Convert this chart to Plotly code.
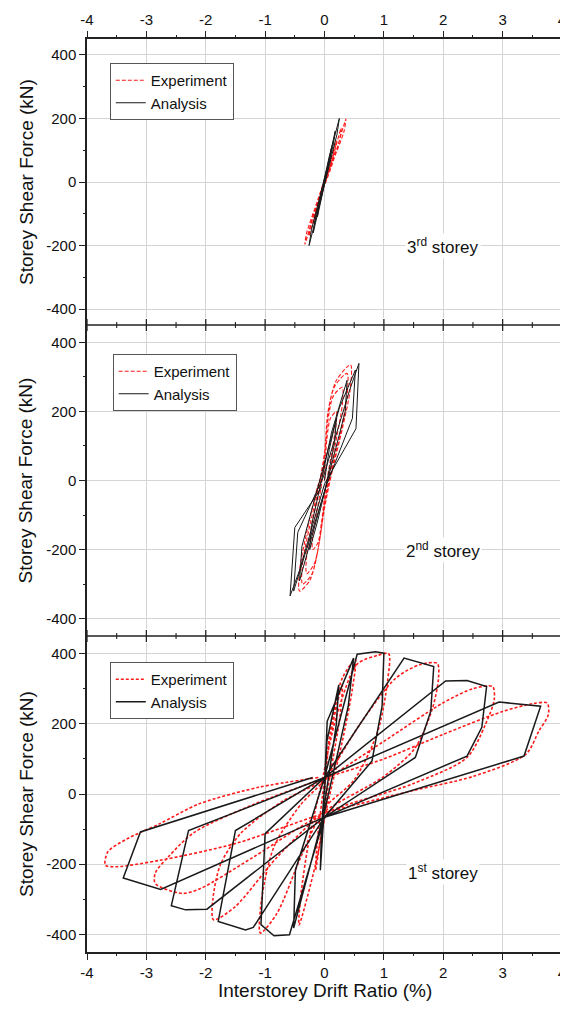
import plotly.graph_objects as go

# ---------------- data (drift ratio %, shear force kN) ----------------
x_ticks = [-4, -3, -2, -1, 0, 1, 2, 3, 4]
x_tick_labels = ['-4', '-3', '-2', '-1', '0', '1', '2', '3', '4']
y_ticks = [-400, -200, 0, 200, 400]
y_tick_labels = ['-400', '-200', '0', '200', '400']

# 3rd storey
exp_3rd_x = [0.00, 0.08, 0.20, 0.17, 0.06, -0.06, -0.18, -0.15, -0.04, 0.10, 0.28, 0.25, 0.10, -0.08,
             -0.26, -0.23, -0.08, 0.12, 0.36, 0.33, 0.15, -0.10, -0.33, -0.30, -0.12, 0.02]
exp_3rd_y = [0, 50, 130, 100, 30, -40, -130, -100, -30, 50, 170, 130, 50, -50,
             -170, -135, -50, 50, 198, 160, 70, -50, -196, -160, -60, 20]
ana_3rd_x = [0.00, 0.05, 0.12, 0.10, 0.02, -0.05, -0.12, -0.10, -0.02, 0.06, 0.18, 0.15, 0.03, -0.08,
             -0.19, -0.16, -0.04, 0.08, 0.25, 0.21, 0.05, -0.10, -0.26, -0.22, -0.06, 0.04]
ana_3rd_y = [0, 50, 110, 80, 10, -50, -110, -80, -10, 60, 160, 120, 20, -70,
             -160, -120, -20, 80, 200, 150, 30, -80, -200, -150, -30, 40]

# 2nd storey
exp_2nd_x = [0.00, 0.04, 0.10, 0.20, 0.20, 0.14, 0.05, 0.00, -0.05, -0.11, -0.20,
             -0.20, -0.13, -0.05, 0.00, 0.05, 0.15, 0.30, 0.30, 0.21, 0.08, 0.00, -0.07, -0.17, -0.30,
             -0.30, -0.21, -0.08, 0.00, 0.05, 0.17, 0.38, 0.38, 0.27, 0.10, 0.00, -0.09, -0.21, -0.37,
             -0.37, -0.26, -0.10, 0.00, 0.06, 0.20, 0.44, 0.43, 0.30, 0.12, 0.00, -0.11, -0.25, -0.42,
             -0.42, -0.30, -0.12, 0.00]
exp_2nd_y = [0, 120, 180, 200, 170, 100, 10, -50, -120, -180, -200,
             -160, -90, -10, 65, 165, 245, 270, 220, 130, 15, -65, -160, -240, -270,
             -215, -125, -15, 72, 185, 272, 310, 245, 140, 18, -72, -180, -270, -300,
             -240, -140, -18, 80, 200, 290, 335, 260, 150, 20, -80, -200, -290, -320,
             -260, -150, -20, 40]
ana_2nd_x = [0.00, 0.08, 0.20, 0.17, 0.02, -0.12, -0.25, -0.22, -0.05, 0.12, 0.38, 0.35, 0.05,
             -0.20, -0.42, -0.38, -0.06, 0.25, 0.52, 0.47, 0.04, -0.35, -0.52, -0.45, -0.02,
             0.42, 0.58, 0.53, 0.00, -0.42, -0.58, -0.50, -0.05]
ana_2nd_y = [0, 90, 180, 110, -20, -120, -200, -130, 0, 140, 290, 200, 0,
             -150, -290, -190, 10, 210, 320, 180, -10, -230, -320, -150, 10,
             260, 339, 150, -10, -260, -334, -136, -20]

# 1st storey
exp_1st_x = [0.00, 0.08, 0.30, 0.26, 0.10, -0.03, -0.15, -0.12, -0.03,
             0.10, 0.30, 0.52, 0.47, 0.30, 0.05, -0.15, -0.43, -0.40, -0.25, -0.05,
             0.20, 0.55, 0.90, 1.08, 1.06, 0.90, 0.50, 0.00, -0.40, -0.80, -1.08, -1.06, -0.85, -0.40, 0.00,
             0.60, 1.20, 1.60, 1.90, 1.92, 1.82, 1.53, 1.00, 0.00, -0.80, -1.50, -1.87, -1.88, -1.75, -1.40, -0.70, 0.00,
             1.00, 2.00, 2.50, 2.83, 2.86, 2.71, 2.40, 1.50, 0.00, -1.20, -2.10, -2.40, -2.85, -2.85, -2.63, -2.20, -1.20, 0.00,
             1.00, 2.00, 3.00, 3.50, 3.75, 3.77, 3.61, 3.39, 2.50, 1.50, 0.00, -1.50, -2.78, -3.50, -3.69, -3.65, -3.35,
             -2.78, -2.11, -1.11, -0.10]
exp_1st_y = [0, 150, 311, 220, 60, -80, -217, -130, 0,
             180, 330, 383, 300, 150, -30, -200, -373, -290, -120, 30,
             220, 370, 395, 400, 320, 180, 40, -40, -180, -340, -396, -300, -150, -30, 40,
             200, 330, 368, 372, 330, 245, 132, 50, -50, -180, -320, -358, -300, -200, -110, -20, 40,
             150, 260, 300, 306, 270, 198, 104, 30, -55, -180, -270, -283, -255, -225, -179, -110, -30, 45,
             100, 170, 235, 257, 259, 226, 179, 113, 50, 10, -55, -141, -189, -207, -203, -165, -130,
             -85, -28, 19, 47]
ana_1st_x = [0.00, 0.04, 0.24, 0.20, 0.00, -0.07, -0.05, 0.00, 0.045, 0.49, 0.40, 0.00, -0.52, -0.49, 0.00,
             0.55, 0.86, 1.00, 0.97, 0.80, 0.00, -0.59, -0.85, -1.07, -1.00, 0.00,
             1.34, 1.84, 1.79, 1.53, 0.00, -1.20, -1.33, -1.79, -1.50, 0.00,
             2.04, 2.40, 2.73, 2.65, 2.40, 0.00, -1.98, -2.34, -2.58, -2.29, 0.00,
             2.94, 3.64, 3.36, 0.00, -2.76, -3.39, -3.10, -0.20]
ana_1st_y = [0, 150, 311, 200, -30, -217, -100, 20, 207, 387, 250, -50, -382, -217, 47,
             398, 405, 401, 250, 94, -66, -401, -404, -372, -113, 47,
             387, 363, 236, 104, -66, -380, -387, -363, -104, 47,
             322, 323, 306, 190, 108, -66, -328, -330, -318, -104, 47,
             262, 250, 108, -66, -272, -239, -108, 47]

storey_labels = ['3<sup>rd</sup> storey', '2<sup>nd</sup> storey', '1<sup>st</sup> storey']
y_title = 'Storey Shear Force (kN)'
x_title = 'Interstorey Drift Ratio (%)'

# ---------------- figure ----------------
FONT = 'Liberation Sans, Arial, Helvetica, sans-serif'
AXC = '#222222'
GRID = '#d4d4d4'
x_minor = [v + 0.5 for v in x_ticks[:-1]]
y_minor = [v + 100 for v in y_ticks[:-1]]

fig = go.Figure()

panels = [
    (exp_3rd_x, exp_3rd_y, ana_3rd_x, ana_3rd_y, 'x', 'y', 'legend', '4px,2px', 1.1, 1.0),
    (exp_2nd_x, exp_2nd_y, ana_2nd_x, ana_2nd_y, 'x2', 'y2', 'legend2', '4px,2px', 1.1, 1.0),
    (exp_1st_x, exp_1st_y, ana_1st_x, ana_1st_y, 'x3', 'y3', 'legend3', '3px,2px', 1.6, 1.5),
]
for ex, ey, ax_, ay, xa, ya, lg, dash, ew, aw in panels:
    fig.add_trace(go.Scatter(x=ex, y=ey, mode='lines', name='Experiment', xaxis=xa, yaxis=ya,
                             legend=lg, line=dict(color='#ff1a1a', width=ew, dash=dash,
                                                  shape='spline', smoothing=0.8)))
    fig.add_trace(go.Scatter(x=ax_, y=ay, mode='lines', name='Analysis', xaxis=xa, yaxis=ya,
                             legend=lg, line=dict(color='#1a1a1a', width=aw)))


def xaxis(side, labels, anchor, outer):
    return dict(range=[-4, 4], tickmode='array', tickvals=x_ticks, ticktext=x_tick_labels,
                side=side, anchor=anchor, showticklabels=labels, automargin=False,
                ticks='outside' if outer else '', ticklen=6, tickwidth=1.3, tickcolor=AXC,
                showline=outer, linecolor=AXC, linewidth=1.5, mirror=False,
                showgrid=True, gridcolor=GRID, gridwidth=1, zeroline=False,
                tickfont=dict(size=15, color='#111', family=FONT))


def xtick_overlay(over, side, anchor, vals, length):
    return dict(range=[-4, 4], tickmode='array', tickvals=vals, overlaying=over,
                side=side, anchor=anchor, showticklabels=False, automargin=False,
                ticks='outside', ticklen=length, tickwidth=1.2, tickcolor=AXC,
                showline=False, showgrid=False, zeroline=False)


def yaxis(domain, anchor):
    return dict(range=[-450, 450], domain=domain, anchor=anchor, automargin=False,
                tickmode='array', tickvals=y_ticks, ticktext=y_tick_labels,
                ticks='outside', ticklen=6, tickwidth=1.3, tickcolor=AXC,
                showline=True, linecolor=AXC, linewidth=1.5, mirror=True,
                showgrid=True, gridcolor=GRID, gridwidth=1, zeroline=False,
                tickfont=dict(size=15, color='#111', family=FONT))


def ytick_overlay(over, anchor):
    return dict(range=[-450, 450], tickmode='array', tickvals=y_minor, overlaying=over,
                side='left', anchor=anchor, showticklabels=False, automargin=False,
                ticks='outside', ticklen=3, tickwidth=1.1, tickcolor=AXC,
                showline=False, showgrid=False, zeroline=False)


def legend(x, y):
    return dict(x=x, y=y, xref='paper', yref='paper', xanchor='left', yanchor='top',
                bgcolor='white', bordercolor='#555', borderwidth=1,
                font=dict(size=15, color='#111', family=FONT),
                tracegroupgap=0, itemwidth=30)


b23, b12 = 0.3461, 0.6867
layout = dict(
    width=560, height=1004,
    margin=dict(l=79, r=6, t=31, b=60, autoexpand=False),
    paper_bgcolor='white', plot_bgcolor='white',
    font=dict(family=FONT, color='#111'),
    xaxis=xaxis('top', True, 'y', True),
    xaxis2=xaxis('bottom', False, 'y2', False),
    xaxis3=xaxis('bottom', True, 'y3', True),
    yaxis=yaxis([b12, 1.0], 'x'),
    yaxis2=yaxis([b23, b12], 'x2'),
    yaxis3=yaxis([0.0, b23], 'x3'),
    legend=legend(0.048, 0.9737),
    legend2=legend(0.054, 0.655),
    legend3=legend(0.048, 0.3176),
    showlegend=True,
)

# minor ticks on the outer top / bottom axes
n = 4
for over, side, ya in [('x', 'top', 'y'), ('x3', 'bottom', 'y3')]:
    layout['xaxis%d' % n] = xtick_overlay(over, side, ya, x_minor, 3)
    fig.add_trace(go.Scatter(x=[None], y=[None], xaxis='x%d' % n, yaxis=ya, mode='lines',
                             showlegend=False, hoverinfo='skip'))
    n += 1

m = 4
for yo, xa in [('y', 'x'), ('y2', 'x2'), ('y3', 'x3')]:
    layout['yaxis%d' % m] = ytick_overlay(yo, xa)
    fig.add_trace(go.Scatter(x=[None], y=[None], xaxis=xa, yaxis='y%d' % m, mode='lines',
                             showlegend=False, hoverinfo='skip'))
    m += 1

fig.update_layout(**layout)

# panel dividers: line with ticks crossing both ways
for yb, xr in [(b12, 'x'), (b23, 'x2')]:
    for x0, x1 in [(0.004, 0.996), (1.004, 1.05)]:
        fig.add_shape(type='rect', xref='paper', x0=x0, x1=x1, yref='paper',
                      ysizemode='pixel', yanchor=yb, y0=-7, y1=7,
                      fillcolor='white', line=dict(width=0), layer='above')
    fig.add_shape(type='line', xref='paper', x0=0, x1=1, yref='paper', y0=yb, y1=yb,
                  line=dict(color=AXC, width=1.5), layer='above')
    for v in x_ticks:
        fig.add_shape(type='line', xref=xr, x0=v, x1=v, yref='paper', ysizemode='pixel',
                      yanchor=yb, y0=-6, y1=6, line=dict(color=AXC, width=1.3), layer='above')
    for v in x_minor:
        fig.add_shape(type='line', xref=xr, x0=v, x1=v, yref='paper', ysizemode='pixel',
                      yanchor=yb, y0=-3, y1=3, line=dict(color=AXC, width=1.1), layer='above')

for lab, xr, yr, ys in zip(storey_labels, ['x', 'x2', 'x3'], ['y', 'y2', 'y3'], [0, 0, -8]):
    fig.add_annotation(text=lab, x=2, y=-200, xref=xr, yref=yr, showarrow=False,
                       xanchor='center', yanchor='middle', yshift=ys, bgcolor='white',
                       font=dict(size=17, color='#111', family=FONT))

for yc in [(b12 + 1.0) / 2, (b23 + b12) / 2, b23 / 2]:
    fig.add_annotation(text=y_title, x=0, y=yc, xref='paper', yref='paper', showarrow=False,
                       textangle=-90, xanchor='center', yanchor='middle', xshift=-61,
                       font=dict(size=19, color='#111', family=FONT))

fig.add_annotation(text=x_title, x=0.5, y=0, xref='paper', yref='paper', showarrow=False,
                   xanchor='center', yanchor='middle', yshift=-38,
                   font=dict(size=19, color='#111', family=FONT))

fig.write_html('out.html')
